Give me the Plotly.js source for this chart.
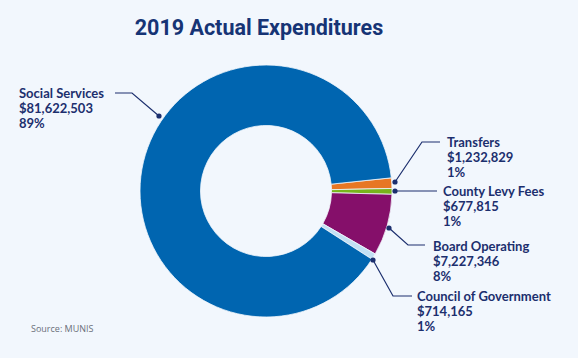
<!DOCTYPE html>
<html>
<head>
<meta charset="utf-8">
<script src="https://cdn.plot.ly/plotly-3.0.1.min.js"></script>
<style>html,body{margin:0;padding:0;background:#f2f7fd;}#chart{width:578px;height:358px;}</style>
</head>
<body>
<div id="chart"></div>
<script>
// Data
const categories = ["Transfers", "County Levy Fees", "Board Operating", "Council of Government", "Social Services"];
const amounts = [1232829, 677815, 7227346, 714165, 81622503];
const amountLabels = ["$1,232,829", "$677,815", "$7,227,346", "$714,165", "$81,622,503"];
const percentLabels = ["1%", "1%", "8%", "1%", "89%"];
const sliceColors = ["#e77724", "#78b41c", "#850f6a", "#c2e0f4", "#0065b0"];

const W = 578, H = 358;
const px = x => x / W;
const py = y => 1 - y / H;
const navy = "#1c2f6e";
const lineGap = 15.2;

// Callout layout (pixel positions): first text line, leader-line path, dot
const callouts = {
  "Social Services":      {tx: 17,  ty: 93,  path: [[115,93],[132,93],[159,116]]},
  "Transfers":            {tx: 445, ty: 142, path: [[440,142],[422,142],[395,182]]},
  "County Levy Fees":     {tx: 441, ty: 191, path: [[437,191],[395,191]]},
  "Board Operating":      {tx: 431, ty: 246, path: [[425,245],[408,245],[389,228]]},
  "Council of Government":{tx: 415, ty: 296, path: [[412,296],[393,296],[373,260]]}
};

const annotations = [];
const shapes = [];
categories.forEach((c, i) => {
  const co = callouts[c];
  [c, amountLabels[i], percentLabels[i]].forEach((t, k) => {
    annotations.push({
      xref: "paper", yref: "paper",
      x: px(co.tx), y: py(co.ty + k * lineGap),
      xanchor: "left", yanchor: "middle", align: "left",
      showarrow: false,
      text: t,
      font: {family: "Lato", size: 13, color: navy, weight: 700}
    });
  });
  const p = co.path;
  let d = "M " + px(p[0][0]) + "," + py(p[0][1]);
  for (let k = 1; k < p.length; k++) d += " L " + px(p[k][0]) + "," + py(p[k][1]);
  shapes.push({type: "path", xref: "paper", yref: "paper", path: d, line: {color: navy, width: 1.2}});
  const dot = p[p.length - 1];
  const r = 2.6;
  shapes.push({type: "circle", xref: "paper", yref: "paper",
    x0: px(dot[0] - r), x1: px(dot[0] + r), y0: py(dot[1] + r), y1: py(dot[1] - r),
    fillcolor: navy, line: {width: 0}});
});

annotations.push({
  xref: "paper", yref: "paper", x: px(29), y: py(328),
  xanchor: "left", yanchor: "middle", showarrow: false,
  text: "Source: MUNIS",
  font: {family: "Open Sans", size: 9, color: "#6b6f7a"}
});

const cx = 266, cy = 191, R = 126;
const trace = {
  type: "pie",
  labels: categories,
  values: amounts,
  sort: false,
  direction: "clockwise",
  rotation: 84,
  hole: 0.52,
  textinfo: "none",
  hoverinfo: "label+value+percent",
  marker: {colors: sliceColors, line: {color: "#f2f7fd", width: 0.8}},
  domain: {x: [px(cx - R), px(cx + R)], y: [py(cy + R), py(cy - R)]},
  showlegend: false
};

const layout = {
  width: W, height: H,
  margin: {l: 0, r: 0, t: 0, b: 0},
  paper_bgcolor: "#f2f7fd",
  plot_bgcolor: "#f2f7fd",
  showlegend: false,
  title: {
    text: "<b>2019 Actual Expenditures</b>",
    x: px(259), xanchor: "center",
    y: py(27), yanchor: "middle",
    font: {family: "Roboto", size: 21.5, color: "#163475"}
  },
  annotations: annotations,
  shapes: shapes
};

Plotly.newPlot("chart", [trace], layout, {displayModeBar: false, staticPlot: true});
</script>
</body>
</html>
